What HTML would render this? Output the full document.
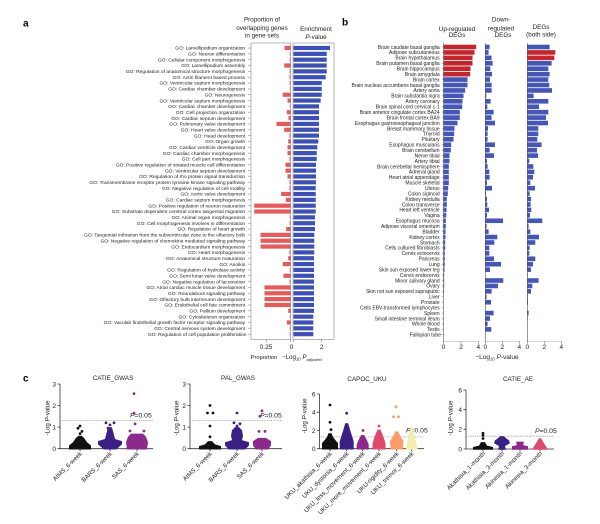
<!DOCTYPE html>
<html><head><meta charset="utf-8"><style>html,body{margin:0;padding:0;background:#fff}svg{display:block}</style></head>
<body>
<svg width="600" height="524" viewBox="0 0 600 524" xmlns="http://www.w3.org/2000/svg" font-family="'Liberation Sans', sans-serif">
<defs>
<pattern id="ta" patternUnits="userSpaceOnUse" x="0" y="45.9" width="600" height="5.84"><rect x="0" y="1.85" width="600" height="0.5" fill="#777"/></pattern>
<pattern id="tb" patternUnits="userSpaceOnUse" x="0" y="44.7" width="600" height="5.43"><rect x="0" y="2.05" width="600" height="0.5" fill="#777"/></pattern>
</defs>
<rect width="600" height="524" fill="#fff"/>

<text x="23" y="26.5" font-size="10" font-weight="bold">a</text>
<text x="342" y="25.5" font-size="10" font-weight="bold">b</text>
<text x="23" y="381.5" font-size="10" font-weight="bold">c</text>

<!-- ===== Panel a ===== -->
<g font-size="6.3" text-anchor="middle" fill="#222">
<text x="262" y="21.5">Proportion of</text>
<text x="262" y="30.2">overlapping genes</text>
<text x="262" y="37.6">in gene sets</text>
<text x="316" y="31.2">Enrichment</text>
<text x="316" y="39.2"><tspan font-style="italic">P</tspan>-value</text>
</g>
<text font-size="4.9" text-anchor="end" fill="#222">
<tspan x="246.5" y="49.7">GO: Lamellipodium organization</tspan>
<tspan x="246.5" dy="5.84">GO: Neuron differentiation</tspan>
<tspan x="246.5" dy="5.84">GO: Cellular component morphogenesis</tspan>
<tspan x="246.5" dy="5.84">GO: Lamellipodium assembly</tspan>
<tspan x="246.5" dy="5.84">GO: Regulation of anatomical structure morphogenesis</tspan>
<tspan x="246.5" dy="5.84">GO: Actin filament based process</tspan>
<tspan x="246.5" dy="5.84">GO: Ventricular septum morphogenesis</tspan>
<tspan x="246.5" dy="5.84">GO: Cardiac chamber development</tspan>
<tspan x="246.5" dy="5.84">GO: Neurogenesis</tspan>
<tspan x="246.5" dy="5.84">GO: Ventricular septum morphogenesis</tspan>
<tspan x="246.5" dy="5.84">GO: Cardiac chamber development</tspan>
<tspan x="246.5" dy="5.84">GO: Cell projection organization</tspan>
<tspan x="246.5" dy="5.84">GO: Cardiac septum development</tspan>
<tspan x="246.5" dy="5.84">GO: Pulmonary valve development</tspan>
<tspan x="246.5" dy="5.84">GO: Heart valve development</tspan>
<tspan x="246.5" dy="5.84">GO: Head development</tspan>
<tspan x="246.5" dy="5.84">GO: Organ growth</tspan>
<tspan x="246.5" dy="5.84">GO: Cardiac ventricle development</tspan>
<tspan x="246.5" dy="5.84">GO: Cardiac chamber morphogenesis</tspan>
<tspan x="246.5" dy="5.84">GO: Cell part morphogenesis</tspan>
<tspan x="246.5" dy="5.84">GO: Positive regulation of striated muscle cell differentiation</tspan>
<tspan x="246.5" dy="5.84">GO: Ventricular septum development</tspan>
<tspan x="246.5" dy="5.84">GO: Regulation of rho protein signal transduction</tspan>
<tspan x="246.5" dy="5.84">GO: Transmembrane receptor protein tyrosine kinase signaling pathway</tspan>
<tspan x="246.5" dy="5.84">GO: Negative regulation of cell motility</tspan>
<tspan x="246.5" dy="5.84">GO: Aortic valve development</tspan>
<tspan x="246.5" dy="5.84">GO: Cardiac septum morphogenesis</tspan>
<tspan x="246.5" dy="5.84">GO: Positive regulation of neuron maturation</tspan>
<tspan x="246.5" dy="5.84">GO: Substrate dependent cerebral cortex tangential migration</tspan>
<tspan x="246.5" dy="5.84">GO: Animal organ morphogenesis</tspan>
<tspan x="246.5" dy="5.84">GO: Cell morphogenesis involves in differentiation</tspan>
<tspan x="246.5" dy="5.84">GO: Regulation of heart growth</tspan>
<tspan x="246.5" dy="5.84">GO: Tangential mihration from the subventricular zone to the olfactory bulb</tspan>
<tspan x="246.5" dy="5.84">GO: Negative regulation of chemokine mediated signaling pathway</tspan>
<tspan x="246.5" dy="5.84">GO: Endocardium morphogenesis</tspan>
<tspan x="246.5" dy="5.84">GO: Heart morphogenesis</tspan>
<tspan x="246.5" dy="5.84">GO: Anatomical structure maturation</tspan>
<tspan x="246.5" dy="5.84">GO: Anoikis</tspan>
<tspan x="246.5" dy="5.84">GO: Regulation of hydrolase activity</tspan>
<tspan x="246.5" dy="5.84">GO: Semi lunar valve development</tspan>
<tspan x="246.5" dy="5.84">GO: Negative regulation of lacomotion</tspan>
<tspan x="246.5" dy="5.84">GO: Atrial cardiac muscle tissue development</tspan>
<tspan x="246.5" dy="5.84">GO: Roundabout signaling pathway</tspan>
<tspan x="246.5" dy="5.84">GO: Olfactory bulb interneuron development</tspan>
<tspan x="246.5" dy="5.84">GO: Endothelial cell fate commitment</tspan>
<tspan x="246.5" dy="5.84">GO: Pallium development</tspan>
<tspan x="246.5" dy="5.84">GO: Cytoskeleton organization</tspan>
<tspan x="246.5" dy="5.84">GO: Vaculab findothelial growth factor receptor signaling pathway</tspan>
<tspan x="246.5" dy="5.84">GO: Central nervous system development</tspan>
<tspan x="246.5" dy="5.84">GO: Regulation of cell population proliferation</tspan>
</text>
<rect x="248" y="45.9" width="3" height="292" fill="url(#ta)"/>
<rect x="251" y="43" width="39.7" height="296.5" fill="none" stroke="#9a9a9a" stroke-width="0.7"/>
<rect x="293" y="43" width="41" height="296.5" fill="none" stroke="#9a9a9a" stroke-width="0.7"/>
<g stroke="#777" stroke-width="0.6">
<line x1="266.5" y1="339.5" x2="266.5" y2="342"/>
<line x1="290.7" y1="339.5" x2="290.7" y2="342"/>
<line x1="293.5" y1="339.5" x2="293.5" y2="342"/>
<line x1="321.7" y1="339.5" x2="321.7" y2="342"/>
</g>
<g font-size="6.5" text-anchor="middle" fill="#222">
<text x="266" y="349.2">0.25</text>
<text x="291.5" y="349.2">0</text>
<text x="321.7" y="349.2">2</text>
<text x="264" y="359.2" font-size="5.8">Proportion</text>
</g>
<text x="282" y="359.2" font-size="6.2" fill="#222">−Log<tspan font-size="4.2" dy="1.5">10</tspan><tspan dy="-1.5"> </tspan><tspan font-style="italic">P</tspan><tspan font-size="4" font-style="italic" dy="1.8">adjusted</tspan></text>

<g transform="translate(0,45.9) scale(1,5.84)" fill="#e35b5a">
<rect x="284.5" y="0" width="6" height="0.72"/>
<rect x="289.5" y="1" width="1" height="0.72" opacity="0.5"/>
<rect x="289.2" y="2" width="1.3" height="0.72" opacity="0.5"/>
<rect x="284.2" y="3" width="6.3" height="0.72"/>
<rect x="289.2" y="4" width="1.3" height="0.72" opacity="0.5"/>
<rect x="288.8" y="5" width="1.7" height="0.72" opacity="0.5"/>
<rect x="289.2" y="6" width="1.3" height="0.72" opacity="0.5"/>
<rect x="289.5" y="7" width="1" height="0.72" opacity="0.5"/>
<rect x="282.8" y="8" width="7.7" height="0.72"/>
<rect x="287.5" y="9" width="3" height="0.72"/>
<rect x="289.5" y="10" width="1" height="0.72" opacity="0.5"/>
<rect x="286.8" y="11" width="3.7" height="0.72"/>
<rect x="288.5" y="12" width="2" height="0.72"/>
<rect x="276.5" y="13" width="14" height="0.72"/>
<rect x="284.2" y="14" width="6.3" height="0.72"/>
<rect x="288.8" y="15" width="1.7" height="0.72" opacity="0.5"/>
<rect x="288.2" y="16" width="2.3" height="0.72"/>
<rect x="287.5" y="17" width="3" height="0.72"/>
<rect x="287.5" y="18" width="3" height="0.72"/>
<rect x="288.8" y="19" width="1.7" height="0.72" opacity="0.5"/>
<rect x="285.5" y="20" width="5" height="0.72"/>
<rect x="285.5" y="21" width="5" height="0.72"/>
<rect x="287.5" y="22" width="3" height="0.72"/>
<rect x="288.8" y="23" width="1.7" height="0.72" opacity="0.5"/>
<rect x="288.8" y="24" width="1.7" height="0.72" opacity="0.5"/>
<rect x="281.2" y="25" width="9.3" height="0.72"/>
<rect x="285.8" y="26" width="4.7" height="0.72"/>
<rect x="254.2" y="27" width="36.3" height="0.72"/>
<rect x="254.2" y="28" width="36.3" height="0.72"/>
<rect x="289.5" y="29" width="1" height="0.72" opacity="0.5"/>
<rect x="289.2" y="30" width="1.3" height="0.72" opacity="0.5"/>
<rect x="286.2" y="31" width="4.3" height="0.72"/>
<rect x="260.5" y="32" width="30" height="0.72"/>
<rect x="260.5" y="33" width="30" height="0.72"/>
<rect x="260.5" y="34" width="30" height="0.72"/>
<rect x="288.8" y="35" width="1.7" height="0.72" opacity="0.5"/>
<rect x="288.2" y="36" width="2.3" height="0.72"/>
<rect x="282.8" y="37" width="7.7" height="0.72"/>
<rect x="289.5" y="38" width="1" height="0.72" opacity="0.5"/>
<rect x="283.5" y="39" width="7" height="0.72"/>
<rect x="288.8" y="40" width="1.7" height="0.72" opacity="0.5"/>
<rect x="264.5" y="41" width="26" height="0.72"/>
<rect x="264.5" y="42" width="26" height="0.72"/>
<rect x="264.5" y="43" width="26" height="0.72"/>
<rect x="264.5" y="44" width="26" height="0.72"/>
<rect x="288.2" y="45" width="2.3" height="0.72"/>
<rect x="289.5" y="46" width="1" height="0.72" opacity="0.5"/>
<rect x="286.8" y="47" width="3.7" height="0.72"/>
<rect x="289.5" y="48" width="1" height="0.72" opacity="0.5"/>
<rect x="289.5" y="49" width="1" height="0.72" opacity="0.5"/>
</g>
<g transform="translate(0,45.9) scale(1,5.84)" fill="#3d50b3">
<rect x="293.5" y="0" width="36.5" height="0.72"/>
<rect x="293.5" y="1" width="33.2" height="0.72"/>
<rect x="293.5" y="2" width="33.2" height="0.72"/>
<rect x="293.5" y="3" width="33.2" height="0.72"/>
<rect x="293.5" y="4" width="33.2" height="0.72"/>
<rect x="293.5" y="5" width="32.2" height="0.72"/>
<rect x="293.5" y="6" width="28.2" height="0.72"/>
<rect x="293.5" y="7" width="28.2" height="0.72"/>
<rect x="293.5" y="8" width="28.2" height="0.72"/>
<rect x="293.5" y="9" width="27.2" height="0.72"/>
<rect x="293.5" y="10" width="25.5" height="0.72"/>
<rect x="293.5" y="11" width="25.5" height="0.72"/>
<rect x="293.5" y="12" width="25.5" height="0.72"/>
<rect x="293.5" y="13" width="25.5" height="0.72"/>
<rect x="293.5" y="14" width="25.5" height="0.72"/>
<rect x="293.5" y="15" width="25.5" height="0.72"/>
<rect x="293.5" y="16" width="24.8" height="0.72"/>
<rect x="293.5" y="17" width="23.8" height="0.72"/>
<rect x="293.5" y="18" width="23.2" height="0.72"/>
<rect x="293.5" y="19" width="23.2" height="0.72"/>
<rect x="293.5" y="20" width="22.5" height="0.72"/>
<rect x="293.5" y="21" width="22.5" height="0.72"/>
<rect x="293.5" y="22" width="22.5" height="0.72"/>
<rect x="293.5" y="23" width="22.5" height="0.72"/>
<rect x="293.5" y="24" width="22.2" height="0.72"/>
<rect x="293.5" y="25" width="22.2" height="0.72"/>
<rect x="293.5" y="26" width="22.2" height="0.72"/>
<rect x="293.5" y="27" width="22.2" height="0.72"/>
<rect x="293.5" y="28" width="22.2" height="0.72"/>
<rect x="293.5" y="29" width="21.5" height="0.72"/>
<rect x="293.5" y="30" width="21.5" height="0.72"/>
<rect x="293.5" y="31" width="21.5" height="0.72"/>
<rect x="293.5" y="32" width="20.8" height="0.72"/>
<rect x="293.5" y="33" width="20.8" height="0.72"/>
<rect x="293.5" y="34" width="20.8" height="0.72"/>
<rect x="293.5" y="35" width="20.8" height="0.72"/>
<rect x="293.5" y="36" width="20.5" height="0.72"/>
<rect x="293.5" y="37" width="20.5" height="0.72"/>
<rect x="293.5" y="38" width="20.5" height="0.72"/>
<rect x="293.5" y="39" width="20.5" height="0.72"/>
<rect x="293.5" y="40" width="20.5" height="0.72"/>
<rect x="293.5" y="41" width="20.5" height="0.72"/>
<rect x="293.5" y="42" width="20.5" height="0.72"/>
<rect x="293.5" y="43" width="20.5" height="0.72"/>
<rect x="293.5" y="44" width="20.5" height="0.72"/>
<rect x="293.5" y="45" width="20.5" height="0.72"/>
<rect x="293.5" y="46" width="19.8" height="0.72"/>
<rect x="293.5" y="47" width="19.8" height="0.72"/>
<rect x="293.5" y="48" width="19.8" height="0.72"/>
<rect x="293.5" y="49" width="19.8" height="0.72"/>
</g>

<!-- ===== Panel b ===== -->
<g font-size="6.3" text-anchor="middle" fill="#222">
<text x="457" y="30.8">Up-regulated</text>
<text x="457" y="36.9">DEGs</text>
<text x="501" y="21.6">Down-</text>
<text x="501" y="30.6">regulated</text>
<text x="503" y="36.9">DEGs</text>
<text x="541" y="29.2">DEGs</text>
<text x="541" y="36.5">(both side)</text>
</g>
<text font-size="5" text-anchor="end" fill="#222">
<tspan x="441" y="48.8">Brain caudate basal ganglia</tspan>
<tspan x="441" dy="5.43">Adipose subcutaneous</tspan>
<tspan x="441" dy="5.43">Brain hypothalamus</tspan>
<tspan x="441" dy="5.43">Brain putamen basal ganglia</tspan>
<tspan x="441" dy="5.43">Brain hippocampus</tspan>
<tspan x="441" dy="5.43">Brain amygdala</tspan>
<tspan x="441" dy="5.43">Brain cortex</tspan>
<tspan x="441" dy="5.43">Brain nucleus accumbens basal ganglia</tspan>
<tspan x="441" dy="5.43">Artery aorta</tspan>
<tspan x="441" dy="5.43">Brain substantia nigra</tspan>
<tspan x="441" dy="5.43">Artery coronary</tspan>
<tspan x="441" dy="5.43">Brain spinal cord cervical c-1</tspan>
<tspan x="441" dy="5.43">Brain anterior cingulate cortex BA24</tspan>
<tspan x="441" dy="5.43">Brain frontal cortex BA9</tspan>
<tspan x="441" dy="5.43">Esophagus gastroesophageal junction</tspan>
<tspan x="441" dy="5.43">Breast mammary tissue</tspan>
<tspan x="441" dy="5.43">Thyroid</tspan>
<tspan x="441" dy="5.43">Pituitary</tspan>
<tspan x="441" dy="5.43">Esophagus muscularis</tspan>
<tspan x="441" dy="5.43">Brain cerebellum</tspan>
<tspan x="441" dy="5.43">Nerve tibial</tspan>
<tspan x="441" dy="5.43">Artery tibial</tspan>
<tspan x="441" dy="5.43">Brain cerebellar hemisphere</tspan>
<tspan x="441" dy="5.43">Adrenal gland</tspan>
<tspan x="441" dy="5.43">Heart atrial appendage</tspan>
<tspan x="441" dy="5.43">Muscle skeletal</tspan>
<tspan x="441" dy="5.43">Uterus</tspan>
<tspan x="441" dy="5.43">Colon sigmoid</tspan>
<tspan x="441" dy="5.43">Kidney medulla</tspan>
<tspan x="441" dy="5.43">Colon transverse</tspan>
<tspan x="441" dy="5.43">Heart left ventricle</tspan>
<tspan x="441" dy="5.43">Vagina</tspan>
<tspan x="441" dy="5.43">Esophagus mucosa</tspan>
<tspan x="441" dy="5.43">Adipose visceral omentum</tspan>
<tspan x="441" dy="5.43">Bladder</tspan>
<tspan x="441" dy="5.43">Kidney cortex</tspan>
<tspan x="441" dy="5.43">Stomach</tspan>
<tspan x="441" dy="5.43">Cells cultured fibroblasts</tspan>
<tspan x="441" dy="5.43">Cervix ectocervix</tspan>
<tspan x="441" dy="5.43">Pancreas</tspan>
<tspan x="441" dy="5.43">Lung</tspan>
<tspan x="441" dy="5.43">Skin sun exposed lower leg</tspan>
<tspan x="441" dy="5.43">Cervix endocervix</tspan>
<tspan x="441" dy="5.43">Minor salivary gland</tspan>
<tspan x="441" dy="5.43">Ovary</tspan>
<tspan x="441" dy="5.43">Skin not sun exposed suprapubic</tspan>
<tspan x="441" dy="5.43">Liver</tspan>
<tspan x="441" dy="5.43">Prostate</tspan>
<tspan x="441" dy="5.43">Cells EBV-transformed lymphocytes</tspan>
<tspan x="441" dy="5.43">Spleen</tspan>
<tspan x="441" dy="5.43">Small intestine terminal ileum</tspan>
<tspan x="441" dy="5.43">Whole blood</tspan>
<tspan x="441" dy="5.43">Testis</tspan>
<tspan x="441" dy="5.43">Fallopian tube</tspan>
</text>
<rect x="441.8" y="44.7" width="1.7" height="293" fill="url(#tb)"/>

<g transform="translate(0,44.7) scale(1,5.43)" fill="#4556b4">
<g fill="#c1272d">
<rect x="443.5" y="0" width="32.7" height="0.85"/>
<rect x="443.5" y="1" width="31" height="0.85"/>
<rect x="443.5" y="2" width="29" height="0.85"/>
<rect x="443.5" y="3" width="29" height="0.85"/>
<rect x="443.5" y="4" width="27" height="0.85"/>
<rect x="443.5" y="5" width="26.7" height="0.85"/>
</g>
<rect x="443.5" y="6" width="24" height="0.85"/>
<rect x="443.5" y="7" width="24" height="0.85"/>
<rect x="443.5" y="8" width="21.7" height="0.85"/>
<rect x="443.5" y="9" width="20" height="0.85"/>
<rect x="443.5" y="10" width="19" height="0.85"/>
<rect x="443.5" y="11" width="18.7" height="0.85"/>
<rect x="443.5" y="12" width="16.3" height="0.85"/>
<rect x="443.5" y="13" width="16.3" height="0.85"/>
<rect x="443.5" y="14" width="14" height="0.85"/>
<rect x="443.5" y="15" width="11" height="0.85"/>
<rect x="443.5" y="16" width="10.7" height="0.85"/>
<rect x="443.5" y="17" width="10" height="0.85"/>
<rect x="443.5" y="18" width="7.7" height="0.85"/>
<rect x="443.5" y="19" width="7.3" height="0.85"/>
<rect x="443.5" y="20" width="6" height="0.85"/>
<rect x="443.5" y="21" width="6" height="0.85"/>
<rect x="443.5" y="22" width="5.3" height="0.85"/>
<rect x="443.5" y="23" width="5.3" height="0.85"/>
<rect x="443.5" y="24" width="5.3" height="0.85"/>
<rect x="443.5" y="25" width="5.3" height="0.85"/>
<rect x="443.5" y="26" width="4.7" height="0.85"/>
<rect x="443.5" y="27" width="4.3" height="0.85"/>
<rect x="443.5" y="28" width="3.3" height="0.85"/>
<rect x="443.5" y="29" width="3.3" height="0.85"/>
<rect x="443.5" y="30" width="3" height="0.85"/>
<rect x="443.5" y="31" width="2.7" height="0.85"/>
<rect x="443.5" y="32" width="2.3" height="0.85"/>
<rect x="443.5" y="33" width="2.3" height="0.85"/>
<rect x="443.5" y="34" width="2" height="0.85"/>
<rect x="443.5" y="35" width="2" height="0.85"/>
<rect x="443.5" y="36" width="1.7" height="0.85"/>
<rect x="443.5" y="37" width="1.7" height="0.85"/>
<rect x="443.5" y="38" width="1.3" height="0.85"/>
<rect x="443.5" y="39" width="1.3" height="0.85"/>
<rect x="443.5" y="40" width="1.3" height="0.85"/>
<rect x="443.5" y="41" width="1" height="0.85"/>
<rect x="443.5" y="42" width="0.7" height="0.85"/>
<rect x="443.5" y="43" width="0.7" height="0.85"/>
<rect x="443.5" y="44" width="0.7" height="0.85"/>
<rect x="443.5" y="45" width="0.5" height="0.85"/>
</g>
<g transform="translate(0,44.7) scale(1,5.43)" fill="#4556b4">
<rect x="485.3" y="0" width="4.3" height="0.85"/>
<rect x="485.3" y="1" width="3.3" height="0.85"/>
<rect x="485.3" y="2" width="6.3" height="0.85"/>
<rect x="485.3" y="3" width="7.3" height="0.85"/>
<rect x="485.3" y="4" width="5" height="0.85"/>
<rect x="485.3" y="5" width="6.7" height="0.85"/>
<rect x="485.3" y="6" width="4.7" height="0.85"/>
<rect x="485.3" y="7" width="6.3" height="0.85"/>
<rect x="485.3" y="8" width="6.3" height="0.85"/>
<rect x="485.3" y="9" width="1" height="0.85"/>
<rect x="485.3" y="10" width="5.3" height="0.85"/>
<rect x="485.3" y="11" width="2" height="0.85"/>
<rect x="485.3" y="12" width="8.3" height="0.85"/>
<rect x="485.3" y="13" width="6.3" height="0.85"/>
<rect x="485.3" y="14" width="9.7" height="0.85"/>
<rect x="485.3" y="15" width="2.7" height="0.85"/>
<rect x="485.3" y="16" width="2.3" height="0.85"/>
<rect x="485.3" y="17" width="2.3" height="0.85"/>
<rect x="485.3" y="18" width="9.7" height="0.85"/>
<rect x="485.3" y="19" width="4.3" height="0.85"/>
<rect x="485.3" y="20" width="8.7" height="0.85"/>
<rect x="485.3" y="21" width="1.7" height="0.85"/>
<rect x="485.3" y="22" width="2.3" height="0.85"/>
<rect x="485.3" y="23" width="4" height="0.85"/>
<rect x="485.3" y="24" width="4.3" height="0.85"/>
<rect x="485.3" y="25" width="1.7" height="0.85"/>
<rect x="485.3" y="26" width="6.7" height="0.85"/>
<rect x="485.3" y="27" width="0.7" height="0.85"/>
<rect x="485.3" y="28" width="1.7" height="0.85"/>
<rect x="485.3" y="29" width="2" height="0.85"/>
<rect x="485.3" y="30" width="3.7" height="0.85"/>
<rect x="485.3" y="31" width="1.7" height="0.85"/>
<rect x="485.3" y="32" width="17.7" height="0.85"/>
<rect x="485.3" y="33" width="1.3" height="0.85"/>
<rect x="485.3" y="34" width="3.3" height="0.85"/>
<rect x="485.3" y="35" width="12" height="0.85"/>
<rect x="485.3" y="36" width="9" height="0.85"/>
<rect x="485.3" y="37" width="4" height="0.85"/>
<rect x="485.3" y="38" width="4" height="0.85"/>
<rect x="485.3" y="39" width="8.7" height="0.85"/>
<rect x="485.3" y="40" width="15.7" height="0.85"/>
<rect x="485.3" y="41" width="4.7" height="0.85"/>
<rect x="485.3" y="43" width="18" height="0.85"/>
<rect x="485.3" y="44" width="12.7" height="0.85"/>
<rect x="485.3" y="45" width="6.3" height="0.85"/>
<rect x="485.3" y="46" width="1.3" height="0.85"/>
<rect x="485.3" y="47" width="5.7" height="0.85"/>
<rect x="485.3" y="49" width="8.3" height="0.85"/>
<rect x="485.3" y="50" width="4.7" height="0.85"/>
<rect x="485.3" y="51" width="2.3" height="0.85"/>
<rect x="485.3" y="52" width="6" height="0.85"/>
</g>
<g transform="translate(0,44.7) scale(1,5.43)" fill="#4556b4">
<rect x="527.3" y="0" width="22.3" height="0.85"/>
<rect x="527.3" y="1" width="28" height="0.85" fill="#c1272d"/>
<rect x="527.3" y="2" width="27" height="0.85" fill="#c1272d"/>
<rect x="527.3" y="3" width="24.3" height="0.85"/>
<rect x="527.3" y="4" width="21" height="0.85"/>
<rect x="527.3" y="5" width="22.3" height="0.85"/>
<rect x="527.3" y="6" width="21" height="0.85"/>
<rect x="527.3" y="7" width="22" height="0.85"/>
<rect x="527.3" y="8" width="24.7" height="0.85"/>
<rect x="527.3" y="9" width="6.3" height="0.85"/>
<rect x="527.3" y="10" width="21" height="0.85"/>
<rect x="527.3" y="11" width="11.7" height="0.85"/>
<rect x="527.3" y="12" width="21" height="0.85"/>
<rect x="527.3" y="13" width="18.7" height="0.85"/>
<rect x="527.3" y="14" width="20.7" height="0.85"/>
<rect x="527.3" y="15" width="11" height="0.85"/>
<rect x="527.3" y="16" width="11" height="0.85"/>
<rect x="527.3" y="17" width="10" height="0.85"/>
<rect x="527.3" y="18" width="14.3" height="0.85"/>
<rect x="527.3" y="19" width="9.7" height="0.85"/>
<rect x="527.3" y="20" width="10.7" height="0.85"/>
<rect x="527.3" y="21" width="2" height="0.85"/>
<rect x="527.3" y="22" width="6" height="0.85"/>
<rect x="527.3" y="23" width="7" height="0.85"/>
<rect x="527.3" y="24" width="5.7" height="0.85"/>
<rect x="527.3" y="25" width="3" height="0.85"/>
<rect x="527.3" y="26" width="7.7" height="0.85"/>
<rect x="527.3" y="27" width="2.3" height="0.85"/>
<rect x="527.3" y="28" width="3.7" height="0.85"/>
<rect x="527.3" y="29" width="3.3" height="0.85"/>
<rect x="527.3" y="30" width="4" height="0.85"/>
<rect x="527.3" y="31" width="2.7" height="0.85"/>
<rect x="527.3" y="32" width="15" height="0.85"/>
<rect x="527.3" y="33" width="1.3" height="0.85"/>
<rect x="527.3" y="34" width="3" height="0.85"/>
<rect x="527.3" y="35" width="11.7" height="0.85"/>
<rect x="527.3" y="36" width="8" height="0.85"/>
<rect x="527.3" y="37" width="2.3" height="0.85"/>
<rect x="527.3" y="38" width="2" height="0.85"/>
<rect x="527.3" y="39" width="8" height="0.85"/>
<rect x="527.3" y="40" width="5.7" height="0.85"/>
<rect x="527.3" y="41" width="3.7" height="0.85"/>
<rect x="527.3" y="42" width="0.4" height="0.85"/>
<rect x="527.3" y="43" width="11.3" height="0.85"/>
<rect x="527.3" y="44" width="5" height="0.85"/>
<rect x="527.3" y="45" width="3.7" height="0.85"/>
<rect x="527.3" y="46" width="0.5" height="0.85"/>
<rect x="527.3" y="47" width="0.7" height="0.85"/>
<rect x="527.3" y="49" width="1.3" height="0.85"/>
<rect x="527.3" y="50" width="0.4" height="0.85"/>
</g>
<g stroke="#555" stroke-width="0.6" fill="none">
<line x1="443.5" y1="43" x2="443.5" y2="341.5"/>
<line x1="485.3" y1="43" x2="485.3" y2="341.5"/>
<line x1="527.3" y1="43" x2="527.3" y2="341.5"/>
<line x1="443.5" y1="341.5" x2="478.5" y2="341.5" stroke="#aaa"/>
<line x1="485.3" y1="341.5" x2="520" y2="341.5" stroke="#aaa"/>
<line x1="527.3" y1="341.5" x2="562" y2="341.5" stroke="#aaa"/>
<path d="M443.5 341.5v2M461 341.5v2M478.3 341.5v2M485.3 341.5v2M502.3 341.5v2M519.3 341.5v2M527.3 341.5v2M544.3 341.5v2M561.3 341.5v2"/>
</g>
<g font-size="6.5" text-anchor="middle" fill="#222">
<text x="443.5" y="349.2">0</text><text x="461" y="349.2">2</text><text x="478.3" y="349.2">4</text>
<text x="485.3" y="349.2">0</text><text x="502.3" y="349.2">2</text><text x="519.3" y="349.2">4</text>
<text x="527.3" y="349.2">0</text><text x="544.3" y="349.2">2</text><text x="561.3" y="349.2">4</text>
<text x="497" y="359.2">−Log<tspan font-size="4.2" dy="1.5">10</tspan><tspan dy="-1.5"> </tspan><tspan font-style="italic">P</tspan>-value</text>
</g>

<!-- ===== Panel c ===== -->
<g font-size="6.3" text-anchor="middle" fill="#222">
<text x="113" y="380">CATIE_GWAS</text>
<text x="238" y="380">PAL_GWAS</text>
<text x="367" y="381">CAPOC_UKU</text>
<text x="518" y="381">CATIE_AE</text>
</g>
<g font-size="6.2" text-anchor="middle" fill="#222">
<text transform="translate(49.5,418) rotate(-90)">-Log <tspan font-style="italic">P</tspan>-value</text>
<text transform="translate(178.5,418) rotate(-90)">-Log <tspan font-style="italic">P</tspan>-value</text>
<text transform="translate(306.5,416) rotate(-90)">-Log <tspan font-style="italic">P</tspan>-value</text>
<text transform="translate(452.5,418) rotate(-90)">-Log <tspan font-style="italic">P</tspan>-value</text>
</g>
<g stroke="#333" stroke-width="0.8" fill="none">
<path d="M60 384V448.7H153M57.5 384H60M57.5 405.6H60M57.5 427.1H60M57.5 448.7H60M80 448.7v2.5M110 448.7v2.5M137 448.7v2.5"/>
<path d="M190 384V448.7H282M187.5 384H190M187.5 405.6H190M187.5 427.1H190M187.5 448.7H190M210 448.7v2.5M237 448.7v2.5M262 448.7v2.5"/>
<path d="M319.5 394V448.7H424M317 394H319.5M317 412.2H319.5M317 430.5H319.5M317 448.7H319.5M330 448.7v2.5M346.7 448.7v2.5M362.7 448.7v2.5M379 448.7v2.5M396.7 448.7v2.5M411.7 448.7v2.5"/>
<path d="M466 390V449H554M463.5 390H466M463.5 409.7H466M463.5 429.3H466M463.5 449H466M483 449v2.5M502 449v2.5M520 449v2.5M540 449v2.5"/>
</g>
<g stroke="#9a9a9a" stroke-width="0.8" stroke-dasharray="1,0.8">
<line x1="60" y1="420.6" x2="153" y2="420.6"/>
<line x1="190" y1="420.6" x2="282" y2="420.6"/>
<line x1="319.5" y1="436.9" x2="424" y2="436.9"/>
<line x1="466" y1="436.2" x2="554" y2="436.2"/>
</g>
<g font-size="6.5" text-anchor="end" fill="#222">
<text x="56" y="386.3">3</text><text x="56" y="407.9">2</text><text x="56" y="429.4">1</text><text x="56" y="451">0</text>
<text x="186" y="386.3">3</text><text x="186" y="407.9">2</text><text x="186" y="429.4">1</text><text x="186" y="451">0</text>
<text x="315.5" y="396.3">6</text><text x="315.5" y="414.5">4</text><text x="315.5" y="432.8">2</text><text x="315.5" y="451">0</text>
<text x="462" y="392.3">6</text><text x="462" y="412">4</text><text x="462" y="431.6">2</text><text x="462" y="451.3">0</text>
</g>
<g font-size="6.8" fill="#222">
<text x="130" y="417.5"><tspan font-style="italic">P</tspan>=0.05</text>
<text x="260" y="417.5"><tspan font-style="italic">P</tspan>=0.05</text>
<text x="406" y="432.3"><tspan font-style="italic">P</tspan>=0.05</text>
<text x="535" y="433"><tspan font-style="italic">P</tspan>=0.05</text>
</g>
<g font-size="6.2" text-anchor="end" fill="#222">
<text transform="translate(82.5,454) rotate(-45)">AIMS_6-week</text>
<text transform="translate(112.5,454) rotate(-45)">BARS_6-week</text>
<text transform="translate(139.5,454) rotate(-45)">SAS_6-week</text>
<text transform="translate(212.5,454) rotate(-45)">AIMS_6-week</text>
<text transform="translate(239.5,454) rotate(-45)">BARS_6-week</text>
<text transform="translate(264.5,454) rotate(-45)">SAS_6-week</text>
<text transform="translate(332.5,454) rotate(-45)">UKU_akathisia_6-week</text>
<text transform="translate(349.2,454) rotate(-45)">UKU_dystonia_6-week</text>
<text transform="translate(365.2,454) rotate(-45)">UKU_less_movement_6-week</text>
<text transform="translate(381.5,454) rotate(-45)">UKU_more_movement_6-week</text>
<text transform="translate(399.2,454) rotate(-45)">UKU-rigidity_6-week</text>
<text transform="translate(414.2,454) rotate(-45)">UKU_tremor_6-week</text>
<text transform="translate(485.5,454) rotate(-45)">Akathisia_1-month</text>
<text transform="translate(504.5,454) rotate(-45)">Akathisia_3-month</text>
<text transform="translate(522.5,454) rotate(-45)">Akinesia_1-month</text>
<text transform="translate(542.5,454) rotate(-45)">Akinesia_3-month</text>
</g>

<g fill="#111">
<polygon points="69,449.5 69,445.5 73,442.2 76,437.9 78.5,435.7 81.5,435.7 84,437.9 87,442.2 91,445.5 91,449.5"/>
<circle cx="80" cy="426" r="1.4"/><circle cx="78" cy="428.2" r="1.4"/><circle cx="82" cy="431.4" r="1.4"/><circle cx="80" cy="433.6" r="1.4"/>
</g>
<g fill="#3a1f85">
<polygon points="104,449.5 98,444.4 98,441.1 105,439 107.5,429.3 108.5,427.1 111.5,427.1 112.5,429.3 115,439 122,441.1 122,444.4 116,449.5"/>
<circle cx="106" cy="422.8" r="1.4"/><circle cx="114" cy="422.8" r="1.4"/><circle cx="110" cy="424.9" r="1.4"/><circle cx="108" cy="428.2" r="1.4"/>
</g>
<g fill="#8c2a8c">
<polygon points="127,449.5 126,442.2 128,436.8 131,433.6 143,433.6 146,436.8 148,442.2 147,449.5"/>
<circle cx="134" cy="393.6" r="1.4"/><circle cx="134" cy="413.1" r="1.4"/><circle cx="135" cy="423.9" r="1.4"/><circle cx="130" cy="431" r="1.4"/><circle cx="144" cy="431" r="1.4"/>
</g>
<g fill="#111">
<polygon points="199,449.5 199,446.1 205,444.4 208,441.1 212,441.1 215,444.4 221,446.1 221,449.5"/>
<circle cx="210" cy="405.5" r="1.4"/><circle cx="207.5" cy="413" r="1.4"/><circle cx="213" cy="413" r="1.4"/><circle cx="210" cy="426" r="1.4"/><circle cx="210" cy="436.8" r="1.4"/>
</g>
<g fill="#3a1f85">
<polygon points="229,449.5 225,445.5 225,442.2 232,440.1 231,435.7 232,430.3 235,427.1 239,427.1 242,430.3 243,435.7 242,440.1 249,442.2 249,445.5 245,449.5"/>
<circle cx="237" cy="413" r="1.4"/><circle cx="234" cy="422.8" r="1.4"/><circle cx="240" cy="423.8" r="1.4"/><circle cx="237" cy="426" r="1.4"/>
</g>
<g fill="#8c2a8c">
<polygon points="256,449.5 253,445.5 253,441.1 258,437.9 266,437.9 271,441.1 271,445.5 268,449.5"/>
<circle cx="262" cy="410.9" r="1.4"/><circle cx="260" cy="416.3" r="1.4"/><circle cx="259" cy="431.4" r="1.4"/><circle cx="265" cy="431.4" r="1.4"/>
</g>
<g fill="#111">
<polygon points="322,449.5 322,443.2 325,439.6 327,436.9 328.5,433.2 331.5,433.2 333,436.9 335,439.6 338,443.2 338,449.5"/>
<circle cx="330" cy="405" r="1.4"/><circle cx="330" cy="422.3" r="1.4"/><circle cx="331" cy="429.6" r="1.4"/>
</g>
<g fill="#3a1f85">
<polygon points="339.7,449.5 339.7,441.4 341.7,435 343.7,428.7 345.2,423.2 348.2,423.2 349.7,428.7 351.7,435 353.7,441.4 353.7,449.5"/>
<circle cx="346.7" cy="413.2" r="1.4"/>
</g>
<g fill="#8c2a8c">
<polygon points="356.7,449.5 356.7,444.2 358.7,439.6 361.2,435 364.2,435 366.7,439.6 368.7,444.2 368.7,449.5"/>
<circle cx="363" cy="430.5" r="1.4"/>
</g>
<g fill="#dd4a6b">
<polygon points="372.5,449.5 372.5,443.2 374.5,436.9 377.5,429.6 380.5,429.6 383.5,436.9 385.5,443.2 385.5,449.5"/>
<circle cx="379" cy="426" r="1.4"/>
</g>
<g fill="#f99d6a">
<polygon points="390.7,449.5 389.7,441.4 392.7,436.9 395.2,431.4 398.2,431.4 400.7,436.9 403.7,441.4 402.7,449.5"/>
<circle cx="396" cy="406.8" r="1.4"/><circle cx="393.5" cy="416.8" r="1.4"/><circle cx="398.5" cy="416.8" r="1.4"/>
</g>
<g fill="#f3eeac">
<polygon points="405.7,449.5 410.7,426.9 412.7,426.9 417.7,449.5"/>
</g>
<g fill="#111">
<polygon points="473,449.8 473,447 479,445.6 481,442.1 485,442.1 487,445.6 493,447 493,449.8"/>
<circle cx="483" cy="433.3" r="1.4"/><circle cx="483" cy="435.5" r="1.4"/><circle cx="483" cy="438.5" r="1.4"/>
</g>
<g fill="#3a1f85">
<polygon points="498,449.8 499,446.1 494,443.1 495,440.2 498,438.2 500,436.2 504,436.2 506,438.2 509,440.2 510,443.1 505,446.1 506,449.8"/>
</g>
<g fill="#8c2a8c">
<polygon points="512,449.8 512,446.1 517,445.1 516,442.6 517,441.6 523,441.6 524,442.6 523,445.1 528,446.1 528,449.8"/>
</g>
<g fill="#dd4a6b">
<polygon points="532,449.8 539,438.2 541,438.2 548,449.8"/>
</g>
</svg>
</body></html>
